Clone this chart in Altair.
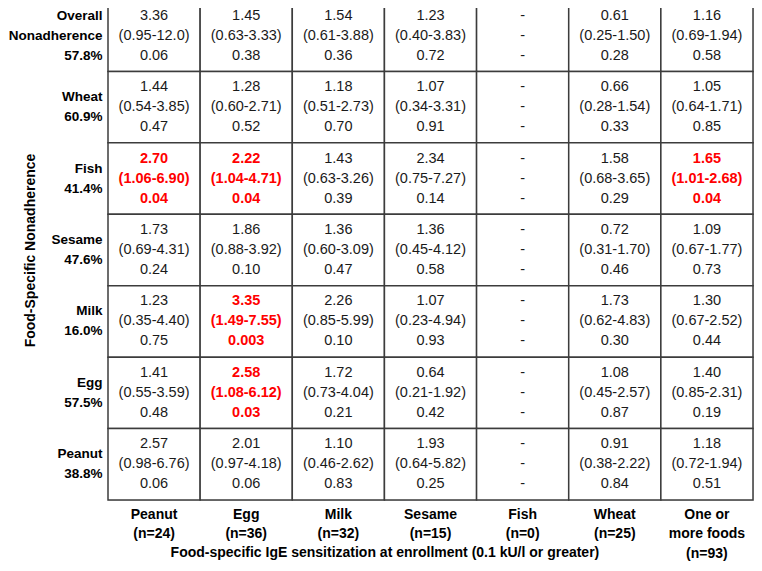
import altair as alt
import pandas as pd

cols = ["Peanut|(n=24)", "Egg|(n=36)", "Milk|(n=32)", "Sesame|(n=15)",
        "Fish|(n=0)", "Wheat|(n=25)", "One or|more foods|(n=93)"]
rows = ["Overall|Nonadherence|57.8%", "Wheat|60.9%", "Fish|41.4%", "Sesame|47.6%",
        "Milk|16.0%", "Egg|57.5%", "Peanut|38.8%"]

odds = [
    ["3.36", "1.45", "1.54", "1.23", "-", "0.61", "1.16"],
    ["1.44", "1.28", "1.18", "1.07", "-", "0.66", "1.05"],
    ["2.70", "2.22", "1.43", "2.34", "-", "1.58", "1.65"],
    ["1.73", "1.86", "1.36", "1.36", "-", "0.72", "1.09"],
    ["1.23", "3.35", "2.26", "1.07", "-", "1.73", "1.30"],
    ["1.41", "2.58", "1.72", "0.64", "-", "1.08", "1.40"],
    ["2.57", "2.01", "1.10", "1.93", "-", "0.91", "1.18"],
]
conf = [
    ["(0.95-12.0)", "(0.63-3.33)", "(0.61-3.88)", "(0.40-3.83)", "-", "(0.25-1.50)", "(0.69-1.94)"],
    ["(0.54-3.85)", "(0.60-2.71)", "(0.51-2.73)", "(0.34-3.31)", "-", "(0.28-1.54)", "(0.64-1.71)"],
    ["(1.06-6.90)", "(1.04-4.71)", "(0.63-3.26)", "(0.75-7.27)", "-", "(0.68-3.65)", "(1.01-2.68)"],
    ["(0.69-4.31)", "(0.88-3.92)", "(0.60-3.09)", "(0.45-4.12)", "-", "(0.31-1.70)", "(0.67-1.77)"],
    ["(0.35-4.40)", "(1.49-7.55)", "(0.85-5.99)", "(0.23-4.94)", "-", "(0.62-4.83)", "(0.67-2.52)"],
    ["(0.55-3.59)", "(1.08-6.12)", "(0.73-4.04)", "(0.21-1.92)", "-", "(0.45-2.57)", "(0.85-2.31)"],
    ["(0.98-6.76)", "(0.97-4.18)", "(0.46-2.62)", "(0.64-5.82)", "-", "(0.38-2.22)", "(0.72-1.94)"],
]
pvals = [
    ["0.06", "0.38", "0.36", "0.72", "-", "0.28", "0.58"],
    ["0.47", "0.52", "0.70", "0.91", "-", "0.33", "0.85"],
    ["0.04", "0.04", "0.39", "0.14", "-", "0.29", "0.04"],
    ["0.24", "0.10", "0.47", "0.58", "-", "0.46", "0.73"],
    ["0.75", "0.003", "0.10", "0.93", "-", "0.30", "0.44"],
    ["0.48", "0.03", "0.21", "0.42", "-", "0.87", "0.19"],
    ["0.06", "0.06", "0.83", "0.25", "-", "0.84", "0.51"],
]
significant = [
    [0, 0, 0, 0, 0, 0, 0],
    [0, 0, 0, 0, 0, 0, 0],
    [1, 1, 0, 0, 0, 0, 1],
    [0, 0, 0, 0, 0, 0, 0],
    [0, 1, 0, 0, 0, 0, 0],
    [0, 1, 0, 0, 0, 0, 0],
    [0, 0, 0, 0, 0, 0, 0],
]

records = []
for i, r in enumerate(rows):
    for j, c in enumerate(cols):
        records.append({
            "row": r, "col": c,
            "label": odds[i][j] + "\n" + conf[i][j] + "\n" + pvals[i][j],
            "sig": significant[i][j],
        })
df = pd.DataFrame(records)

W = 645
H = 500
cell_w = W / 7

X = alt.X("col:N", sort=cols, scale=alt.Scale(paddingInner=0, paddingOuter=0),
          axis=alt.Axis(orient="bottom", title="Food-specific IgE sensitization at enrollment (0.1 kU/l or greater)",
                        labelExpr="split(datum.label, '|')", labelAngle=0,
                        labelFont="Liberation Sans", labelFontSize=14, labelFontWeight="bold",
                        labelColor="#000", labelLineHeight=19.5, labelBaseline="top",
                        labelPadding=7, ticks=False, domain=False,
                        titleFont="Liberation Sans", titleFontSize=14, titleFontWeight="bold",
                        titleColor="#000", titleX=3 * cell_w, titleY=52,
                        titleAlign="center", titleBaseline="middle", titleAnchor="start"))
Y = alt.Y("row:N", sort=rows, scale=alt.Scale(paddingInner=0, paddingOuter=0),
          axis=alt.Axis(orient="left", title="Food-Specific Nonadherence",
                        labelExpr="split(datum.label, '|')",
                        labelFont="Liberation Sans", labelFontSize=13.5, labelFontWeight="bold",
                        labelColor="#000", labelLineHeight=20, labelBaseline="middle",
                        labelAlign="right", labelPadding=6, ticks=False, domain=False,
                        labelOffset={"condition": {"test": "indexof(datum.value, 'Overall') >= 0", "value": -20},
                                     "value": -10},
                        titleFont="Liberation Sans", titleFontSize=14, titleFontWeight="bold",
                        titleColor="#000", titleX=-78, titleY=H / 2, titleAngle=270,
                        titleAlign="center", titleBaseline="middle", titleAnchor="start"))

base = alt.Chart(df)

cells = base.mark_rect(fill="white", stroke="#3c3c3c", strokeWidth=1.5).encode(x=X, y=Y)

normal = base.transform_filter(alt.datum.sig == 0).mark_text(
    font="Liberation Sans", fontSize=14.5, lineBreak="\n", lineHeight=20, dy=-20,
    baseline="middle", align="center", color="#1a1a1a"
).encode(x=X, y=Y, text="label:N")

sig = base.transform_filter(alt.datum.sig == 1).mark_text(
    font="Liberation Sans", fontSize=14.5, fontWeight="bold", lineBreak="\n", lineHeight=20, dy=-20,
    baseline="middle", align="center", color="#ff0000"
).encode(x=X, y=Y, text="label:N")

chart = alt.layer(cells, normal, sig).properties(
    width=W, height=H,
    autosize=alt.AutoSizeParams(type="none"),
    padding={"left": 100, "top": -8, "right": 1, "bottom": 62},
).configure_view(stroke=None).configure(background="white")

chart.save("out.html", embed_options={"renderer": "svg", "actions": False})
